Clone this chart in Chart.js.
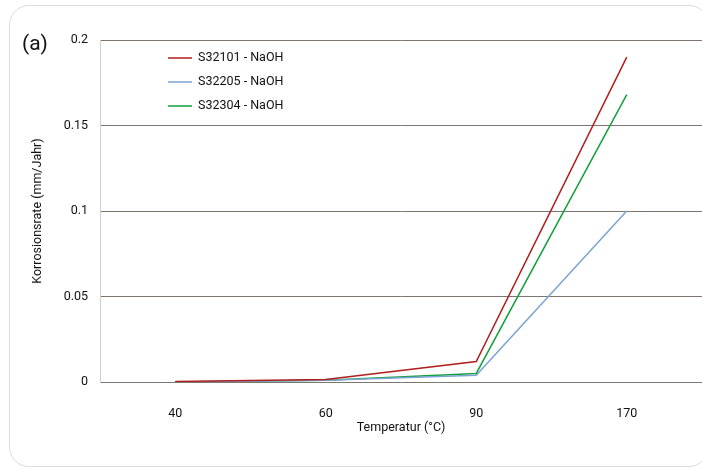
<!DOCTYPE html>
<html>
<head>
<meta charset="utf-8">
<script src="https://cdn.jsdelivr.net/npm/chart.js@4"></script>
<style>
html,body{margin:0;padding:0;background:#fff;}
#wrap{position:relative;width:702px;height:470px;overflow:hidden;}
#frame{position:absolute;left:9px;top:5px;width:700px;height:462px;border:1px solid #dcdcdc;border-radius:20px;box-sizing:border-box;}
#lbl{position:absolute;left:22px;top:31px;font-family:Roboto,"DejaVu Sans",sans-serif;font-size:21px;color:#111;}
canvas{position:absolute;left:0;top:0;}
</style>
</head>
<body>
<div id="wrap">
<div id="frame"></div>
<canvas id="c" width="702" height="470"></canvas>
<div id="lbl">(a)</div>
</div>
<script>
const categories = ["40", "60", "90", "170"];
const s32101 = [0.0003, 0.0015, 0.012, 0.19];
const s32205 = [0.0, 0.001, 0.004, 0.1];
const s32304 = [0.0, 0.001, 0.005, 0.168];
const seriesLabels = ["S32101 - NaOH", "S32205 - NaOH", "S32304 - NaOH"];
const yTicks = [0, 0.05, 0.1, 0.15, 0.2];

const FONT = "Roboto, 'DejaVu Sans', sans-serif";
const FS = 12.5;

const legendPlugin = {
  id: 'inlineLegend',
  afterDraw(chart) {
    const ctx = chart.ctx;
    ctx.save();
    chart.data.datasets.forEach((ds, i) => {
      const y = 58 + i * 24;
      ctx.strokeStyle = ds.borderColor;
      ctx.lineWidth = 1.5;
      ctx.beginPath();
      ctx.moveTo(168, y);
      ctx.lineTo(192, y);
      ctx.stroke();
      ctx.fillStyle = '#111';
      ctx.font = FS + 'px ' + FONT;
      ctx.textBaseline = 'middle';
      ctx.textAlign = 'left';
      ctx.fillText(ds.label, 198, y);
    });
    ctx.restore();
  }
};

new Chart(document.getElementById('c'), {
  type: 'line',
  data: {
    labels: categories,
    datasets: [
      {label: seriesLabels[0], data: s32101, borderColor: '#b01e1e', borderWidth: 1.5, pointRadius: 0, tension: 0},
      {label: seriesLabels[1], data: s32205, borderColor: '#7ba3d4', borderWidth: 1.5, pointRadius: 0, tension: 0},
      {label: seriesLabels[2], data: s32304, borderColor: '#12a03c', borderWidth: 1.5, pointRadius: 0, tension: 0}
    ]
  },
  options: {
    responsive: false,
    animation: false,
    layout: {padding: {left: 30, top: 40, right: 0, bottom: 35}},
    plugins: {legend: {display: false}, tooltip: {enabled: false}},
    scales: {
      x: {
        offset: true,
        afterFit(scale) { scale.height = 53; },
        grid: {display: false, drawTicks: false},
        border: {display: false},
        ticks: {color: '#111', font: {family: FONT, size: FS}, padding: 24, maxRotation: 0},
        title: {display: true, text: 'Temperatur (°C)', color: '#111', font: {family: FONT, size: FS}, padding: {top: 0, bottom: 0}}
      },
      y: {
        min: 0, max: 0.2,
        afterBuildTicks(scale) { scale.ticks = yTicks.map(v => ({value: v})); },
        afterFit(scale) { scale.width = 70; },
        grid: {color: '#7d766e', lineWidth: 1, drawTicks: false},
        border: {display: true, color: '#cfcfcf', width: 1},
        ticks: {color: '#111', font: {family: FONT, size: FS}, padding: 12,
          callback: (v) => String(v)},
        title: {display: true, text: 'Korrosionsrate (mm/Jahr)', color: '#111', font: {family: FONT, size: FS}, padding: {top: 0, bottom: 0}}
      }
    }
  },
  plugins: [legendPlugin]
});
</script>
</body>
</html>
